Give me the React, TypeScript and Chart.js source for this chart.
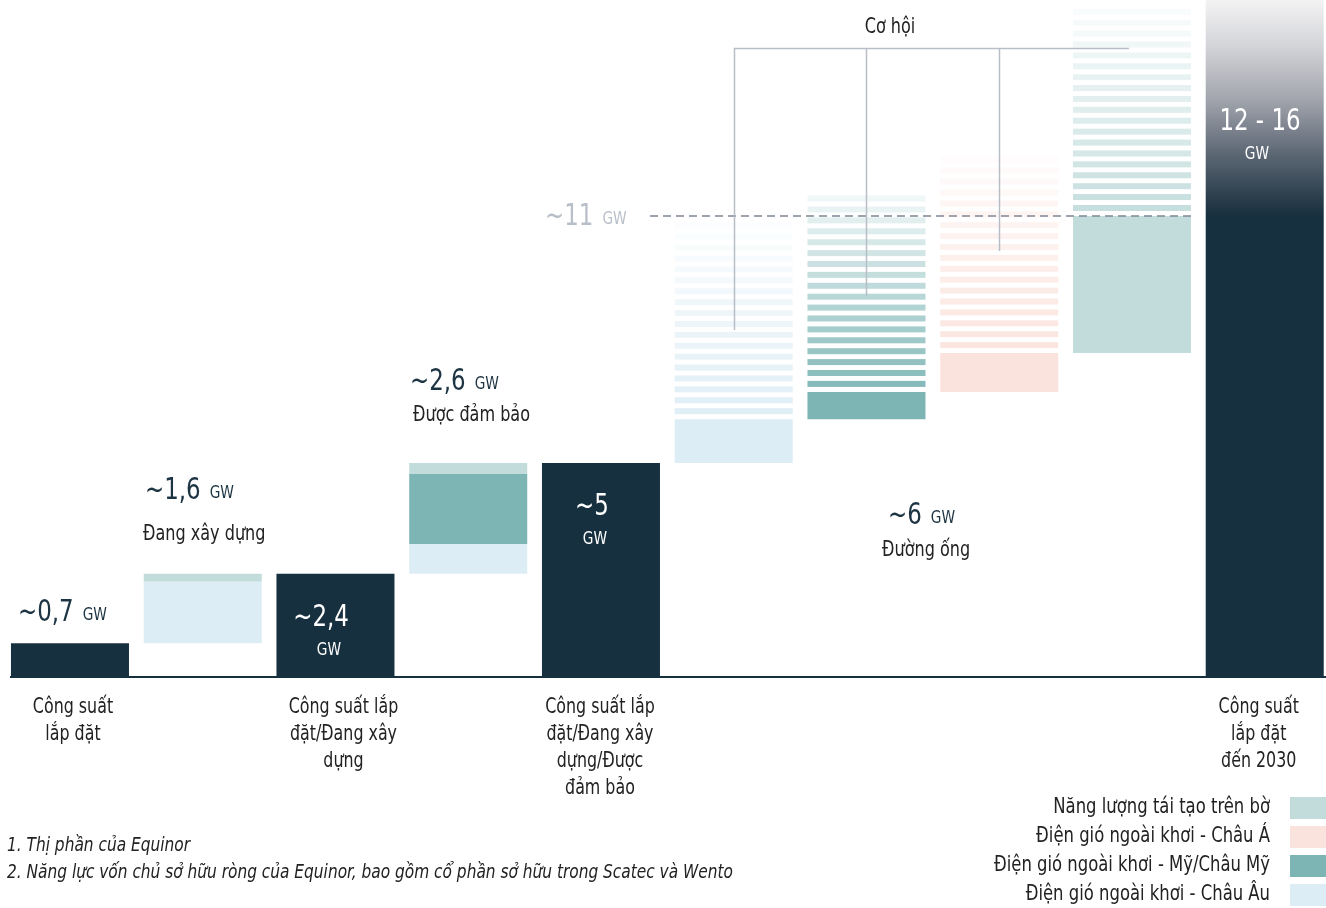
import React, { useEffect, useRef } from "react";
import { Chart, registerables } from "chart.js";
Chart.register(...registerables);

const FONT = "'Liberation Sans Narrow', 'DejaVu Sans Condensed', 'Roboto', sans-serif";

// ---- data ----
const categories: (string | string[])[] = [
  ["Công suất", "lắp đặt"],
  "",
  ["Công suất lắp", "đặt/Đang xây", "dựng"],
  "",
  ["Công suất lắp", "đặt/Đang xây", "dựng/Được", "đảm bảo"],
  "",
  "",
  "",
  "",
  ["Công suất", "lắp đặt", "đến 2030"],
];

const totalValues = [[0, 0.77], null, [0, 2.4], null, [0, 5.0], null, null, null, null, [0, 15.87]];
const europeValues = [null, [0.77, 2.21], null, [2.4, 3.1], null, [5.0, 6.03], null, null, null, null];
const americaValues = [null, null, null, [3.1, 4.74], null, null, [6.03, 6.67], null, null, null];
const asiaValues = [null, null, null, null, null, null, null, [6.67, 7.58], null, null];
const onshoreValues = [null, [2.21, 2.4], null, [4.74, 5.0], null, null, null, null, [7.58, 10.8], null];
const opportunityValues = [null, null, null, null, null, [6.03, 10.7], [6.67, 11.48], [7.58, 12.42], [10.8, 15.75], null];

const targetLine = 10.8;
const yMax = 15.87;

const seriesNames = [
  "Năng lượng tái tạo trên bờ",
  "Điện gió ngoài khơi - Châu Á",
  "Điện gió ngoài khơi - Mỹ/Châu Mỹ",
  "Điện gió ngoài khơi - Châu Âu",
];

const DARK = "#17303f";
const ONSHORE = "#c2dcdc";
const ASIA = "#fbe3dd";
const AMERICA = "#7db5b5";
const EUROPE = "#ddedf5";
const seriesColors = [ONSHORE, ASIA, AMERICA, EUROPE];
const opportunityColors = [null, null, null, null, null, [221, 237, 245], [125, 181, 181], [251, 227, 221], [194, 220, 220], null];

const footnotes = [
  "1. Thị phần của Equinor",
  "2. Năng lực vốn chủ sở hữu ròng của Equinor, bao gồm cổ phần sở hữu trong Scatec và Wento",
];

const pairLabels = [
  { big: "~0,7", small: "GW", x: 18, y: 621, color: "#1d3443" },
  { big: "~1,6", small: "GW", x: 145, y: 499, color: "#1d3443" },
  { big: "~2,6", small: "GW", x: 410, y: 390, color: "#1d3443" },
  { big: "~6", small: "GW", x: 888, y: 524, color: "#1d3443" },
  { big: "~11", small: "GW", x: 545, y: 225, color: "#b9bfc8" },
];
const textLabels = [
  { t: "Đang xây dựng", x: 143, y: 540, size: 21, color: "#222", align: "left" },
  { t: "Được đảm bảo", x: 413, y: 421, size: 21, color: "#222", align: "left" },
  { t: "Đường ống", x: 882, y: 556, size: 21, color: "#222", align: "left" },
  { t: "Cơ hội", x: 890, y: 33, size: 21, color: "#222", align: "center" },
  { t: "~2,4", x: 321, y: 626, size: 30, color: "#ffffff", align: "center" },
  { t: "GW", x: 329, y: 655, size: 18, color: "#ffffff", align: "center" },
  { t: "~5", x: 592, y: 515, size: 30, color: "#ffffff", align: "center" },
  { t: "GW", x: 595, y: 544, size: 18, color: "#ffffff", align: "center" },
  { t: "12 - 16", x: 1260, y: 130, size: 30, color: "#ffffff", align: "center" },
  { t: "GW", x: 1257, y: 159, size: 18, color: "#ffffff", align: "center" },
];
const categoryLabelShift = [3, 0, 8, 0, -1, 0, 0, 0, 0, -6];

const SX = 0.85;

function drawText(ctx: CanvasRenderingContext2D, t: string, x: number, y: number, align: CanvasTextAlign, sx: number) {
  ctx.save();
  ctx.translate(x, y);
  ctx.scale(sx, 1);
  ctx.textAlign = align;
  ctx.fillText(t, 0, 0);
  ctx.restore();
}

const decorPlugin = {
  id: "decor",
  afterDatasetsDraw(chart: any) {
    const ctx: CanvasRenderingContext2D = chart.ctx;
    const xs = chart.scales.x;
    const ys = chart.scales.y;
    ctx.save();
    // stripes for opportunity bars
    const meta = chart.getDatasetMeta(5);
    meta.data.forEach((el: any, i: number) => {
      const col = opportunityColors[i] as number[] | null;
      if (!opportunityValues[i] || !col) return;
      const p = el.getProps(["x", "y", "base", "width"], true);
      const top = Math.min(p.y, p.base);
      const bot = Math.max(p.y, p.base);
      const left = p.x - p.width / 2;
      const period = 10.9;
      const h = 6;
      for (let k = 0; ; k++) {
        const yb = bot - 5 - k * period;
        if (yb - h < top - 1) break;
        const t = (bot - yb) / (bot - top);
        const a = Math.max(0.06, 0.95 - 0.9 * t);
        ctx.fillStyle = `rgba(${col[0]},${col[1]},${col[2]},${a})`;
        ctx.fillRect(left, yb - h, p.width, h);
      }
    });

    // axis line
    ctx.strokeStyle = DARK;
    ctx.lineWidth = 2;
    ctx.beginPath();
    ctx.moveTo(10, ys.bottom + 1);
    ctx.lineTo(1326, ys.bottom + 1);
    ctx.stroke();

    // dashed target line
    const yT = ys.getPixelForValue(targetLine);
    ctx.strokeStyle = "#7d8797";
    ctx.lineWidth = 1.5;
    ctx.setLineDash([8, 5]);
    ctx.beginPath();
    ctx.moveTo(650, yT);
    ctx.lineTo(xs.getPixelForValue(8) + 59, yT);
    ctx.stroke();
    ctx.setLineDash([]);

    // bracket
    ctx.strokeStyle = "#b7bec8";
    ctx.lineWidth = 1.5;
    const yB = 48.5;
    ctx.beginPath();
    ctx.moveTo(xs.getPixelForValue(5), yB);
    ctx.lineTo(xs.getPixelForValue(8) - 3, yB);
    const ends = [330, 296, 251];
    [5, 6, 7].forEach((ci, j) => {
      const xx = Math.round(xs.getPixelForValue(ci)) + 0.5;
      ctx.moveTo(xx, yB);
      ctx.lineTo(xx, ends[j]);
    });
    ctx.stroke();

    // labels
    ctx.textBaseline = "alphabetic";
    pairLabels.forEach((l) => {
      ctx.fillStyle = l.color;
      ctx.font = `30px ${FONT}`;
      drawText(ctx, l.big, l.x, l.y, "left", SX);
      const w = ctx.measureText(l.big).width * SX;
      ctx.font = `18px ${FONT}`;
      drawText(ctx, l.small, l.x + w + 9, l.y - 1, "left", SX);
    });
    textLabels.forEach((l) => {
      ctx.fillStyle = l.color;
      ctx.font = `${l.size}px ${FONT}`;
      drawText(ctx, l.t, l.x, l.y, l.align as CanvasTextAlign, SX);
    });

    // category labels (from the x scale)
    ctx.fillStyle = "#222";
    ctx.textBaseline = "middle";
    ctx.font = `21px ${FONT}`;
    categories.forEach((c, i) => {
      const lines = Array.isArray(c) ? c : c ? [c] : [];
      const cx = xs.getPixelForValue(i) + categoryLabelShift[i];
      lines.forEach((ln, j) => drawText(ctx, ln, cx, ys.bottom + 32 + j * 27, "center", 0.84));
    });

    // legend
    seriesNames.forEach((n, i) => {
      const cy = 808 + i * 29;
      ctx.fillStyle = seriesColors[i];
      ctx.fillRect(1290, cy - 11, 40, 22);
      ctx.fillStyle = "#222";
      ctx.textBaseline = "middle";
      ctx.font = `21px ${FONT}`;
      drawText(ctx, n, 1270, cy, "right", 0.87);
    });

    // footnotes
    ctx.textBaseline = "middle";
    ctx.fillStyle = "#222";
    ctx.font = `italic 19px ${FONT}`;
    footnotes.forEach((f, i) => drawText(ctx, f, 7, 846 + i * 27, "left", 0.9));
    ctx.restore();
  },
};

export default function App() {
  const ref = useRef<HTMLCanvasElement>(null);
  useEffect(() => {
    document.body.style.overflow = "hidden";
    const canvas = ref.current!;
    const totalBg = (c: any) => {
      if (c.dataIndex !== 9) return DARK;
      const chart = c.chart;
      const ys = chart.scales && chart.scales.y;
      if (!ys) return DARK;
      const g = chart.ctx.createLinearGradient(0, ys.getPixelForValue(yMax), 0, ys.getPixelForValue(targetLine));
      g.addColorStop(0, "#f3f3f4");
      g.addColorStop(0.22, "#d2d3d7");
      g.addColorStop(0.46, "#a2a5ad");
      g.addColorStop(0.7, "#606a77");
      g.addColorStop(0.92, "#2a3d4b");
      g.addColorStop(1, DARK);
      return g;
    };
    const common = { grouped: false, categoryPercentage: 1, barPercentage: 0.889, borderWidth: 0 };
    const chart = new Chart(canvas, {
      type: "bar",
      data: {
        labels: categories as any,
        datasets: [
          { label: "Tổng", data: totalValues as any, backgroundColor: totalBg as any, ...common },
          { label: seriesNames[3], data: europeValues as any, backgroundColor: EUROPE, ...common },
          { label: seriesNames[2], data: americaValues as any, backgroundColor: AMERICA, ...common },
          { label: seriesNames[1], data: asiaValues as any, backgroundColor: ASIA, ...common },
          { label: seriesNames[0], data: onshoreValues as any, backgroundColor: ONSHORE, ...common },
          { label: "Cơ hội", data: opportunityValues as any, backgroundColor: "rgba(0,0,0,0)", ...common },
        ],
      },
      options: {
        responsive: false,
        animation: false,
        layout: { padding: { left: 3.6, right: 0.9, top: 0, bottom: 0 } },
        plugins: { legend: { display: false }, tooltip: { enabled: false } },
        scales: {
          x: {
            grid: { display: false, drawTicks: false },
            border: { display: false },
            ticks: { display: false },
            afterFit: (s: any) => {
              s.height = 232;
            },
          },
          y: { display: false, min: 0, max: yMax },
        },
      },
      plugins: [decorPlugin],
    });
    return () => chart.destroy();
  }, []);
  return (
    <div style={{ position: "absolute", left: 0, top: 0, width: 1326, height: 908, overflow: "hidden", background: "#fff" }}>
      <canvas ref={ref} width={1332} height={908} style={{ width: 1332, height: 908, display: "block" }} />
    </div>
  );
}
